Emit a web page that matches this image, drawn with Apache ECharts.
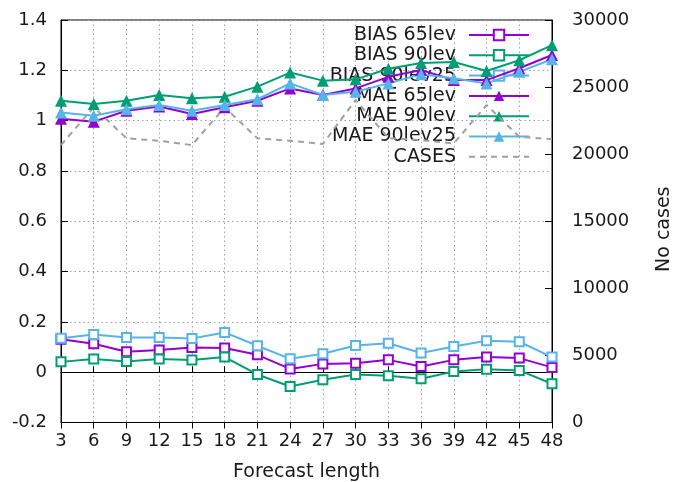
<!DOCTYPE html>
<html>
<head>
<meta charset="utf-8">
<script src="https://cdn.jsdelivr.net/npm/echarts@6/dist/echarts.min.js"></script>
<style>
  html, body { margin: 0; padding: 0; background: #fff; }
  #chart { width: 674px; height: 482px; }
</style>
</head>
<body>
<div id="chart"></div>
<script>
// Forecast lengths (hours)
const hours = [3, 6, 9, 12, 15, 18, 21, 24, 27, 30, 33, 36, 39, 42, 45, 48];

// Bias per forecast length
const bias65 = [0.131, 0.113, 0.081, 0.088, 0.098, 0.096, 0.069, 0.013, 0.033, 0.036, 0.049, 0.023, 0.049, 0.060, 0.056, 0.019];
const bias90 = [0.041, 0.052, 0.042, 0.052, 0.048, 0.060, -0.009, -0.057, -0.030, -0.009, -0.014, -0.026, 0.003, 0.012, 0.007, -0.046];
const bias90l25 = [0.135, 0.150, 0.138, 0.138, 0.134, 0.158, 0.105, 0.053, 0.073, 0.106, 0.115, 0.076, 0.102, 0.125, 0.121, 0.060];

// Mean absolute error per forecast length
const mae65 = [1.007, 0.996, 1.039, 1.056, 1.026, 1.053, 1.079, 1.128, 1.102, 1.128, 1.174, 1.201, 1.161, 1.161, 1.208, 1.261];
const mae90 = [1.079, 1.066, 1.079, 1.102, 1.089, 1.095, 1.135, 1.191, 1.159, 1.164, 1.206, 1.229, 1.233, 1.197, 1.240, 1.300];
const mae90l25 = [1.032, 1.019, 1.045, 1.062, 1.039, 1.062, 1.085, 1.148, 1.102, 1.115, 1.148, 1.184, 1.168, 1.148, 1.194, 1.244];

// Number of verified cases (right axis)
const cases = [20680, 23500, 21180, 21000, 20680, 23500, 21180, 21000, 20760, 24040, 21200, 21050, 20800, 23660, 21300, 21110];

const seriesNames = ['BIAS 65lev', 'BIAS 90lev', 'BIAS 90lev25', 'MAE 65lev', 'MAE 90lev', 'MAE 90lev25', 'CASES'];

const PURPLE = '#9400d3';
const GREEN = '#009e73';
const BLUE = '#56b4e9';
const GREY = '#a0a0a0';
const FONT = 'DejaVu Sans';
const TICK_SIZE = 18;
const TITLE_SIZE = 19;
const TEXT = '#1a1a1a';

function pairs(vals) {
  return hours.map((h, i) => [h, vals[i]]);
}

function biasSeries(name, vals, color) {
  return {
    name, type: 'line', data: pairs(vals), yAxisIndex: 0,
    symbol: 'emptyRect', symbolSize: 9,
    lineStyle: { width: 2, color },
    itemStyle: { color, borderColor: color, borderWidth: 1.5 }
  };
}

function maeSeries(name, vals, color) {
  return {
    name, type: 'line', data: pairs(vals), yAxisIndex: 0,
    symbol: 'triangle', symbolSize: 12,
    lineStyle: { width: 2, color },
    itemStyle: { color }
  };
}

const gridDash = { color: GREY, width: 1, type: [1.5, 3] };

// The cases line has no markers, so its key entry shows only the dashed line
const legendData = seriesNames.map(n =>
  n === 'CASES' ? { name: n, itemStyle: { opacity: 0 } } : { name: n }
);

const chart = echarts.init(document.getElementById('chart'), null, { renderer: 'canvas' });

chart.setOption({
  animation: false,
  backgroundColor: '#fff',
  grid: {
    left: 61, right: 122, top: 20, bottom: 59.5,
    outerBoundsMode: 'none',
    containLabel: false,
    show: true, borderColor: '#000', borderWidth: 1, backgroundColor: 'transparent'
  },
  legend: {
    data: legendData,
    orient: 'vertical',
    left: 311, top: 20,
    align: 'right',
    itemWidth: 60, itemHeight: 13, itemGap: 0.3,
    selectedMode: false,
    z: 1,
    textStyle: {
      fontFamily: FONT, fontSize: TITLE_SIZE, color: TEXT,
      width: 140, align: 'right', lineHeight: 20, padding: [0, 8, 0, 0]
    }
  },
  xAxis: [
    {
      type: 'value', position: 'bottom',
      min: 3, max: 48, interval: 3,
      name: 'Forecast length', nameLocation: 'middle', nameGap: 40,
      nameTextStyle: { fontFamily: FONT, fontSize: TITLE_SIZE, color: TEXT },
      axisLine: { show: true, lineStyle: { color: '#000', width: 1 } },
      axisTick: { show: true, inside: true, length: 6, lineStyle: { color: '#000' } },
      axisLabel: { fontFamily: FONT, fontSize: TICK_SIZE, color: TEXT, margin: 10 },
      splitLine: { show: true, lineStyle: gridDash }
    },
    {
      type: 'value', position: 'top',
      min: 3, max: 48, interval: 3,
      axisLine: { show: true, lineStyle: { color: '#000', width: 1 } },
      axisTick: { show: true, inside: true, length: 6, lineStyle: { color: '#000' } },
      axisLabel: { show: false },
      splitLine: { show: false }
    }
  ],
  yAxis: [
    {
      type: 'value', position: 'left',
      min: -0.2, max: 1.4, interval: 0.2,
      axisLine: { show: true, lineStyle: { color: '#000', width: 1 } },
      axisTick: { show: true, inside: true, length: 7, lineStyle: { color: '#000' } },
      axisLabel: {
        fontFamily: FONT, fontSize: TICK_SIZE, color: TEXT, margin: 14,
        formatter: v => String(parseFloat(v.toFixed(1)))
      },
      splitLine: { show: true, lineStyle: gridDash }
    },
    {
      type: 'value', position: 'right',
      min: 0, max: 30000, interval: 5000,
      name: 'No cases', nameLocation: 'middle', nameGap: 103, nameRotate: 90,
      nameTextStyle: { fontFamily: FONT, fontSize: TITLE_SIZE, color: TEXT, padding: [0, 16, 0, 0] },
      axisLine: { show: true, lineStyle: { color: '#000', width: 1 } },
      axisTick: { show: true, inside: true, length: 7, lineStyle: { color: '#000' } },
      axisLabel: {
        fontFamily: FONT, fontSize: TICK_SIZE, color: TEXT, margin: 20,
        formatter: v => String(v)
      },
      splitLine: { show: false }
    }
  ],
  series: [
    biasSeries('BIAS 65lev', bias65, PURPLE),
    biasSeries('BIAS 90lev', bias90, GREEN),
    biasSeries('BIAS 90lev25', bias90l25, BLUE),
    maeSeries('MAE 65lev', mae65, PURPLE),
    maeSeries('MAE 90lev', mae90, GREEN),
    maeSeries('MAE 90lev25', mae90l25, BLUE),
    {
      name: 'CASES', type: 'line', data: pairs(cases), yAxisIndex: 1,
      symbol: 'none',
      lineStyle: { width: 2, color: GREY, type: [6, 5] },
      itemStyle: { color: GREY }
    }
  ]
});
</script>
</body>
</html>
